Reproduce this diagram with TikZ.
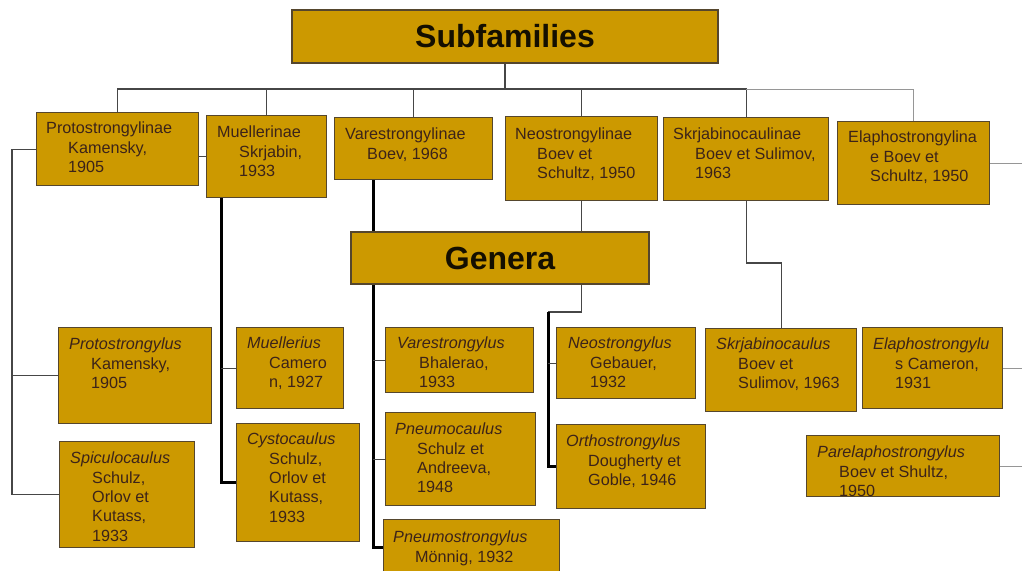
\documentclass[tikz,border=0pt]{standalone}
\usepackage{fontspec}
\setmainfont{Liberation Sans}
\usetikzlibrary{backgrounds}
\definecolor{gold}{RGB}{204,153,0}
\definecolor{edge}{RGB}{85,70,45}
\definecolor{ink}{RGB}{60,35,25}
\definecolor{wire}{RGB}{70,70,70}
\definecolor{lightwire}{RGB}{150,150,150}
\newcommand\gbox[8]{%
 \node[box, minimum width=#4pt, minimum height=#5pt, anchor=north west] (#1) at (#2,#3) {};
 \node[txt, anchor=north west] (#1t) at (#6,#7) {#8};}
\newcommand\ind{\\\hspace*{22pt}}
\begin{document}
\begin{tikzpicture}[x=1pt,y=-1pt,
 box/.style={draw=edge, line width=1.2pt, fill=gold, inner sep=0pt},
 txt/.style={inner sep=0pt, align=left, text=ink, font=\fontsize{16.2}{19.3}\selectfont},
 title/.style={box, font=\fontsize{32}{36}\selectfont\bfseries, text=black!90!gold},
 conn/.style={draw=wire, line width=1.2pt},
 heavy/.style={draw=black, line width=3pt},
 faint/.style={draw=lightwire, line width=1pt}]
\useasboundingbox (0,0) rectangle (1022,570);
\node[title, minimum width=426pt, minimum height=53pt] (sub) at (505,36.5) {Subfamilies};
\node[title, minimum width=298pt, minimum height=52pt] (gen) at (500,258) {Genera};
\gbox{proto}{36}{112}{162}{73}{46}{122}{Protostrongylinae\ind Kamensky,\ind 1905}
\gbox{mue}{206}{115}{120}{82}{217}{126}{Muellerinae\ind Skrjabin,\ind 1933}
\gbox{vare}{334}{117}{158}{62}{345}{128}{Varestrongylinae\ind Boev, 1968}
\gbox{neo}{505}{116}{152}{84}{515}{128}{Neostrongylinae\ind Boev et\ind Schultz, 1950}
\gbox{skrj}{663}{117}{165}{83}{673}{128}{Skrjabinocaulinae\ind Boev et Sulimov,\ind 1963}
\gbox{ela}{837}{121}{152}{83}{848}{131}{Elaphostrongylina\ind e Boev et\ind Schultz, 1950}
\gbox{protog}{58}{327}{153}{96}{69}{338}{\textit{Protostrongylus}\ind Kamensky,\ind 1905}
\gbox{spic}{59}{441}{135}{106}{70}{452}{\textit{Spiculocaulus}\ind Schulz,\ind Orlov et\ind Kutass,\ind 1933}
\gbox{muel}{236}{327}{107}{81}{247}{337}{\textit{Muellerius}\ind Camero\ind n, 1927}
\gbox{cyst}{236}{423}{123}{118}{247}{433}{\textit{Cystocaulus}\ind Schulz,\ind Orlov et\ind Kutass,\ind 1933}
\gbox{varg}{385}{327}{148}{65}{397}{337}{\textit{Varestrongylus}\ind Bhalerao,\ind 1933}
\gbox{pcau}{385}{412}{150}{93}{395}{423}{\textit{Pneumocaulus}\ind Schulz et\ind Andreeva,\ind 1948}
\gbox{pstr}{383}{519}{176}{55}{393}{531}{\textit{Pneumostrongylus}\ind Mönnig, 1932}
\gbox{neog}{556}{327}{139}{71}{568}{337}{\textit{Neostrongylus}\ind Gebauer,\ind 1932}
\gbox{orth}{556}{424}{149}{84}{566}{435}{\textit{Orthostrongylus}\ind Dougherty et\ind Goble, 1946}
\gbox{skg}{705}{328}{151}{83}{716}{338}{\textit{Skrjabinocaulus}\ind Boev et\ind Sulimov, 1963}
\gbox{elag}{862}{327}{140}{81}{873}{338}{\textit{Elaphostrongylu}\ind s Cameron,\ind 1931}
\gbox{pare}{806}{435}{193}{61}{817}{446}{\textit{Parelaphostrongylus}\ind Boev et Shultz,\ind 1950}
\begin{scope}[on background layer]
\coordinate (bus) at (0,89);
\draw[conn] (sub.south) -- (sub.south |- bus);
\draw[conn] (proto.north) |- (skrj.north |- bus) -- (skrj.north);
\draw[conn] (mue.north |- bus) -- (mue.north);
\draw[conn] (vare.north |- bus) -- (vare.north);
\draw[conn] (neo.north |- bus) -- (neo.north);
\draw[faint] (skrj.north |- bus) -| (ela.north);
\coordinate (lrail) at (12,0);
\draw[conn] (proto.west) -- (proto.west -| lrail) |- (spic.west);
\draw[conn] (lrail |- protog.west) -- (protog.west);
\draw[conn] (proto.east |- mue.west) -- (mue.west);
\coordinate (mrail) at (221,0);
\draw[heavy] (mrail |- mue.south) |- (cyst.west);
\draw[conn] (mrail |- muel.west) -- (muel.west);
\coordinate (vrail) at (373,0);
\draw[heavy] (vrail |- vare.south) |- (pstr.west);
\draw[conn] (vrail |- varg.west) -- (varg.west);
\draw[conn] (vrail |- pcau.west) -- (pcau.west);
\draw[conn] (neo.south) -- (neo.south |- gen.north);
\coordinate (nrail) at (548,312);
\draw[conn] (gen.south -| neo.south) |- (nrail);
\draw[heavy] (nrail) |- (orth.west);
\draw[conn] (nrail |- neog.west) -- (neog.west);
\coordinate (skmid) at (0,263);
\draw[conn] (skrj.south) |- (skg.north |- skmid) -- (skg.north);
\coordinate (rrail) at (1025,0);
\draw[faint] (ela.east) -- (ela.east -| rrail) |- (pare.east);
\draw[faint] (rrail |- elag.east) -- (elag.east);
\end{scope}
\end{tikzpicture}
\end{document}
